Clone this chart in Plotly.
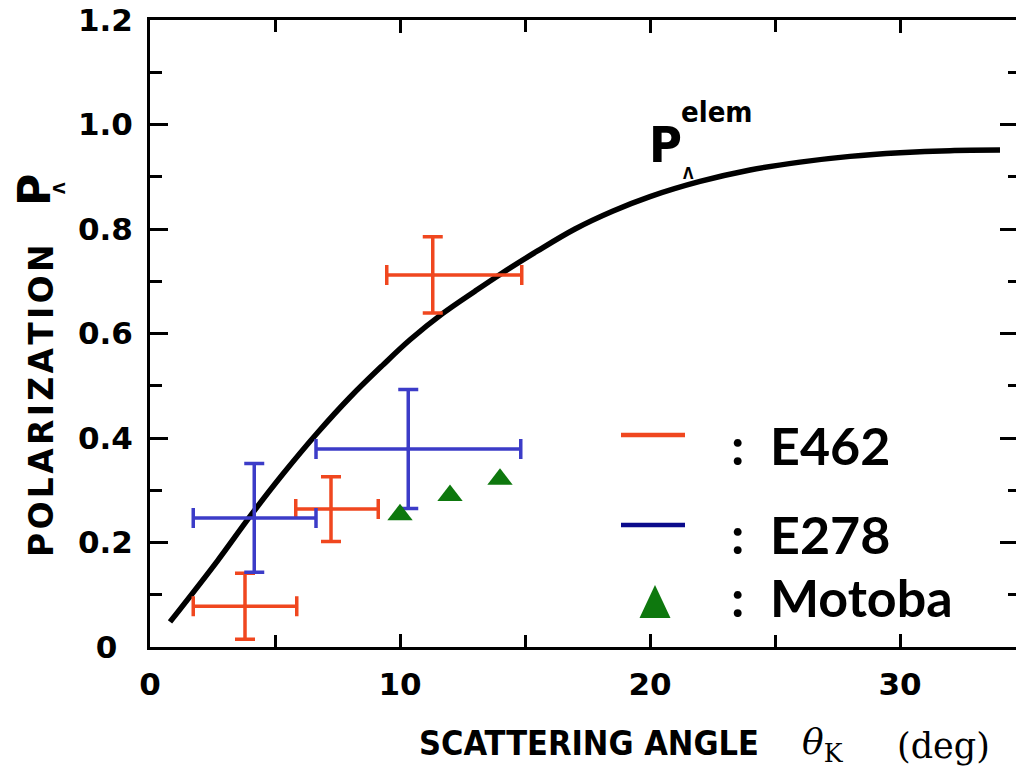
import plotly.graph_objects as go

# Elementary-process polarization curve P_Lambda^elem
theta_curve = [0.8, 2.7, 4.0, 5.3, 6.7, 8.0, 9.3, 10.4, 11.7, 13.0, 14.0, 15.5,
               17.0, 18.5, 20.0, 22.0, 24.0, 26.0, 28.0, 30.0, 32.0, 34.0]
p_curve = [0.048, 0.165, 0.250, 0.330, 0.410, 0.478, 0.539, 0.588, 0.638, 0.681,
           0.713, 0.758, 0.800, 0.834, 0.862, 0.891, 0.913, 0.928, 0.939, 0.946,
           0.950, 0.951]

# E462 measurements
e462_theta = [3.8, 7.24, 11.31]
e462_theta_minus = [2.07, 1.41, 1.84]
e462_theta_plus = [2.07, 1.89, 3.56]
e462_p = [0.078, 0.264, 0.712]
e462_p_err = [0.063, 0.062, 0.073]

# E278 measurements
e278_theta = [4.17, 10.33]
e278_theta_minus = [2.44, 3.69]
e278_theta_plus = [2.47, 4.50]
e278_p = [0.247, 0.379]
e278_p_err = [0.104, 0.114]

# Motoba calculation
motoba_theta = [10.0, 12.0, 14.0]
motoba_p = [0.253, 0.290, 0.321]

x_ticks = [0, 10, 20, 30]
x_tick_text = ["0", "10", "20", "30"]
y_ticks = [0, 0.2, 0.4, 0.6, 0.8, 1.0, 1.2]
y_tick_text = ["0\u2002", "0.2", "0.4", "0.6", "0.8", "1.0", "1.2"]

RED = "#f0471f"
BLUE = "#3c3cc8"
GREEN = "#0e780e"
W, H = 1016, 774
L, R, T, B = 150, 0, 20, 127


def px(x, y):
    """Pixel position on the page -> paper coordinates."""
    return (x - L) / (W - L - R), (H - B - y) / (H - T - B)


fig = go.Figure()

fig.add_trace(go.Scatter(
    x=theta_curve, y=p_curve, mode="lines",
    line=dict(color="black", width=5.5, shape="spline", smoothing=1.0),
    showlegend=False, hoverinfo="skip"))

fig.add_trace(go.Scatter(
    x=e462_theta, y=e462_p, mode="markers",
    marker=dict(color=RED, size=4),
    error_x=dict(type="data", symmetric=False, array=e462_theta_plus,
                 arrayminus=e462_theta_minus, color=RED, thickness=3.5, width=10),
    error_y=dict(type="data", array=e462_p_err, color=RED, thickness=3.5, width=10),
    showlegend=False))

fig.add_trace(go.Scatter(
    x=e278_theta, y=e278_p, mode="markers",
    marker=dict(color=BLUE, size=4),
    error_x=dict(type="data", symmetric=False, array=e278_theta_plus,
                 arrayminus=e278_theta_minus, color=BLUE, thickness=3.5, width=10),
    error_y=dict(type="data", array=e278_p_err, color=BLUE, thickness=3.5, width=10),
    showlegend=False))

fig.add_trace(go.Scatter(
    x=motoba_theta, y=motoba_p, mode="markers",
    marker=dict(symbol="triangle-up", size=22, color=GREEN),
    showlegend=False))

# carrier for the right-hand tick axis
fig.add_trace(go.Scatter(x=[None], y=[None], yaxis="y2", showlegend=False,
                         hoverinfo="skip"))

tick_font = dict(family="DejaVu Sans", size=31, color="black", weight="bold")

fig.update_layout(
    width=W, height=H,
    margin=dict(l=L, r=R, t=T, b=B, autoexpand=False),
    paper_bgcolor="white", plot_bgcolor="white",
    xaxis=dict(range=[0, (W - L - R) / 25.0], tickvals=x_ticks, ticktext=x_tick_text,
               ticks="inside", ticklen=13, tickwidth=3, tickcolor="black",
               minor=dict(dtick=5, tick0=0, ticks="inside", ticklen=12,
                          tickwidth=3, tickcolor="black"),
               showline=True, linewidth=3, linecolor="black", mirror="ticks",
               showgrid=False, zeroline=False, tickfont=tick_font,
               ticklabelstandoff=8),
    yaxis=dict(range=[0, 1.2], tickvals=y_ticks, ticktext=y_tick_text,
               ticks="inside", ticklen=18, tickwidth=3, tickcolor="black",
               minor=dict(dtick=0.1, tick0=0, ticks="inside", ticklen=12,
                          tickwidth=3, tickcolor="black"),
               showline=True, linewidth=3, linecolor="black",
               showgrid=False, zeroline=False, tickfont=tick_font,
               ticklabelstandoff=8),
    yaxis2=dict(range=[0, 1.2], overlaying="y", side="right", anchor="x",
                tickvals=y_ticks[1:-1], ticks="inside", ticklen=16, tickwidth=3,
                tickcolor="black", showticklabels=False,
                minor=dict(dtick=0.1, tick0=0, ticks="inside", ticklen=8,
                           tickwidth=3, tickcolor="black"),
                showline=False, showgrid=False, zeroline=False),
)

ann = []


def text(x, y, s, font, angle=0, xanchor="center", yanchor="middle"):
    ax, ay = px(x, y)
    ann.append(dict(x=ax, y=ay, xref="paper", yref="paper", text=s,
                    showarrow=False, font=font, textangle=angle,
                    xanchor=xanchor, yanchor=yanchor))


bold_sans = dict(family="DejaVu Sans", color="black", weight="bold")
narrow = dict(family="Liberation Sans Narrow, DejaVu Sans Condensed", color="black",
              weight="bold")

# y-axis title (hair spaces open up the letter spacing)
text(42, 401, "\u200a".join("POLARIZATION"), dict(bold_sans, size=33), angle=-90)
text(34, 190, "P", dict(bold_sans, size=44), angle=-90)
text(60, 188, "\u039b", dict(bold_sans, size=15), angle=-90)

# x-axis title
text(589, 743, "SCATTERING ANGLE", dict(narrow, size=34))
text(800, 744, "<i>\u03b8</i><sub>K</sub>",
     dict(family="DejaVu Serif", size=36, color="black"), xanchor="left")
text(943, 746, "(deg)", dict(family="DejaVu Serif", size=35, color="black"))

# curve label
text(647, 145, "P", dict(narrow, size=50), xanchor="left")
text(681, 174, "\u039b", dict(narrow, size=15), xanchor="left")
text(717, 112, "elem", dict(narrow, size=29))

# key
key_font = dict(family="Lato, Noto Sans", size=52, color="black", weight="bold")
for yy, label in [(445, "E462"), (534, "E278"), (597, "Motoba")]:
    text(737, yy, ":", key_font)
    text(768, yy, label, key_font, xanchor="left")

fig.update_layout(annotations=ann)

shapes = []
for yy, col in [(435, RED), (525, "#0b0b8c")]:
    x0, y0 = px(621, yy)
    x1, y1 = px(685, yy)
    shapes.append(dict(type="line", xref="paper", yref="paper", x0=x0, y0=y0,
                       x1=x1, y1=y1, line=dict(color=col, width=4.5)))
ta = px(655, 585)
tb = px(639.5, 618)
tc = px(670.5, 618)
shapes.append(dict(type="path", xref="paper", yref="paper",
                   path=f"M {tb[0]},{tb[1]} L {tc[0]},{tc[1]} L {ta[0]},{ta[1]} Z",
                   fillcolor=GREEN, line=dict(width=0)))
fig.update_layout(shapes=shapes)

fig.write_html("out.html")
